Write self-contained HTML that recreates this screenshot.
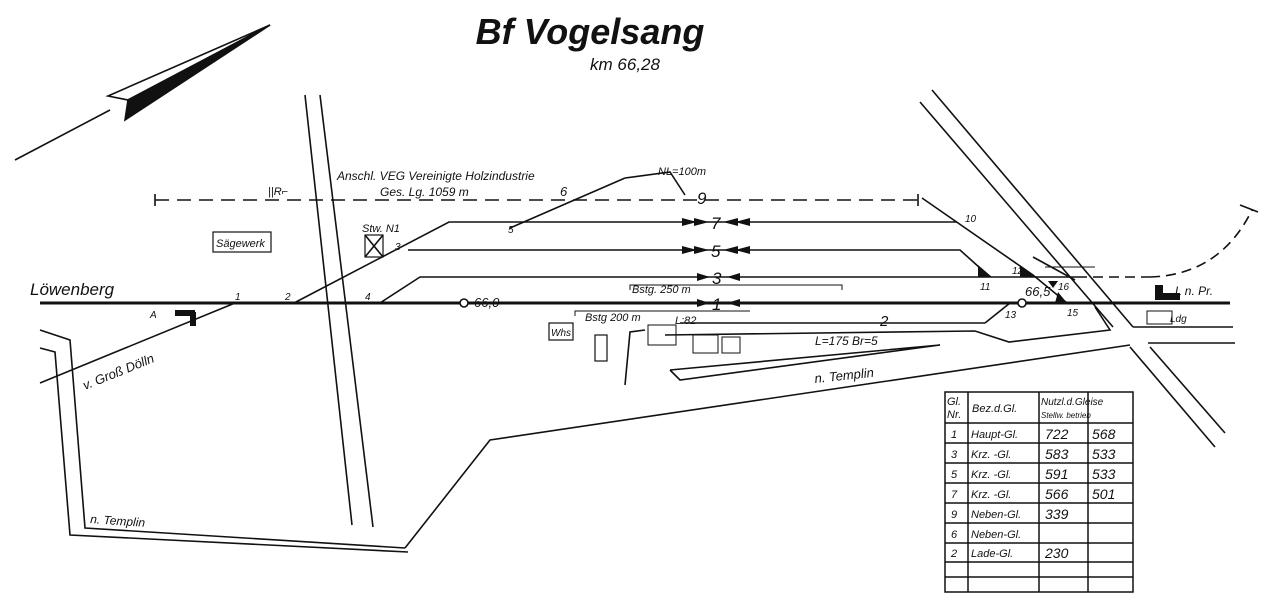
<!DOCTYPE html>
<html><head><meta charset="utf-8"><style>
html,body{margin:0;padding:0;background:#fff;width:1280px;height:613px;overflow:hidden}
svg{display:block}
text{font-family:"Liberation Sans",sans-serif;font-style:italic;fill:#111}
</style></head><body>
<svg width="1280" height="613" viewBox="0 0 1280 613" xmlns="http://www.w3.org/2000/svg" stroke="#111" fill="none" stroke-width="1.6">
<text x="590" y="44" font-size="36" font-weight="bold" text-anchor="middle" stroke="none">Bf Vogelsang</text>
<text x="625" y="70" font-size="17" text-anchor="middle" stroke="none">km 66,28</text>
<line x1="15" y1="160" x2="110" y2="110"/>
<polygon points="108,96 270,25 128,100" fill="#fff"/>
<polygon points="128,100 270,25 125,120" fill="#111"/>
<line x1="305" y1="95" x2="352" y2="525"/>
<line x1="320" y1="95" x2="373" y2="527"/>
<line x1="920" y1="102" x2="1113" y2="327"/>
<line x1="932" y1="90" x2="1133" y2="327"/>
<line x1="1133" y1="327" x2="1233" y2="327"/>
<line x1="1148" y1="343" x2="1235" y2="343"/>
<line x1="1130" y1="347" x2="1215" y2="447"/>
<line x1="1150" y1="347" x2="1225" y2="433"/>
<line x1="40" y1="303" x2="1230" y2="303" stroke-width="3"/>
<line x1="40" y1="383" x2="235" y2="303"/>
<polyline points="294,303 449,222 957,222"/>
<polyline points="408,250 960,250 990,277"/>
<polyline points="380,303 420,277 1077,277"/>
<polyline points="922,198 1033,275 1067,303"/>
<line x1="1033" y1="257" x2="1075" y2="280"/>
<line x1="1045" y1="267" x2="1095" y2="267" stroke-width="1"/>
<line x1="1010" y1="303" x2="985" y2="323"/>
<line x1="155" y1="200" x2="918" y2="200" stroke-dasharray="14,8"/>
<line x1="155" y1="194" x2="155" y2="206"/>
<line x1="918" y1="194" x2="918" y2="206"/>
<line x1="510" y1="228" x2="625" y2="178"/>
<polyline points="625,178 670,172 685,195"/>
<line x1="1077" y1="277" x2="1150" y2="277" stroke-dasharray="10,6"/>
<path d="M1150,277 Q1220,275 1252,210" stroke-dasharray="10,6"/>
<line x1="1240" y1="205" x2="1258" y2="212"/>
<polyline points="630,290 630,285 842,285 842,290" stroke-width="1"/>
<polyline points="575,316 575,311 750,311" stroke-width="1"/>
<g fill="#111" stroke="none">
<polygon points="682,218 697,222 682,226"/><polygon points="694,218 709,222 694,226"/>
<polygon points="738,218 723,222 738,226"/><polygon points="750,218 735,222 750,226"/>
<polygon points="682,246 697,250 682,254"/><polygon points="694,246 709,250 694,254"/>
<polygon points="738,246 723,250 738,254"/><polygon points="750,246 735,250 750,254"/>
<polygon points="697,273 710,277 697,281"/><polygon points="740,273 727,277 740,281"/>
<polygon points="697,299 710,303 697,307"/><polygon points="740,299 727,303 740,307"/>
<polygon points="978,265 992,277 978,277"/><polygon points="1020,265 1036,277 1020,277"/>
<polygon points="1048,281 1058,281 1053,288"/>
<polygon points="1058,292 1067,303 1055,303"/>
<rect x="1155" y="285" width="8" height="15"/><rect x="1155" y="293" width="25" height="7"/>
<rect x="175" y="310" width="20" height="6"/><rect x="190" y="312" width="6" height="14"/>
</g>
<text x="711" y="229" font-size="17" stroke="none">7</text>
<text x="711" y="257" font-size="17" stroke="none">5</text>
<text x="712" y="284" font-size="17" stroke="none">3</text>
<text x="712" y="310" font-size="17" stroke="none">1</text>
<text x="697" y="204" font-size="17" stroke="none">9</text>
<text x="560" y="196" font-size="13" stroke="none">6</text>
<line x1="680" y1="323" x2="985" y2="323"/>
<polyline points="665,335 975,331 1009,342 1110,330 1095,307"/>
<polyline points="645,330 630,332 625,385"/>
<polyline points="670,370 940,345 680,380 670,370"/>
<polyline points="405,548 490,440 1130,345"/>
<polyline points="40,330 70,340 85,528 405,548"/>
<polyline points="40,348 55,352 70,535 408,552"/>
<text x="880" y="326" font-size="15" stroke="none">2</text>
<text x="815" y="345" font-size="12" stroke="none">L=175  Br=5</text>
<text x="815" y="383" font-size="13" stroke="none" transform="rotate(-6 815 383)">n. Templin</text>
<text x="90" y="523" font-size="12" stroke="none" transform="rotate(4 90 523)">n. Templin</text>
<rect x="213" y="232" width="58" height="20" stroke-width="1.2"/>
<text x="216" y="247" font-size="11" stroke="none">Sägewerk</text>
<rect x="365" y="235" width="18" height="22" stroke-width="1.2"/>
<line x1="365" y1="235" x2="383" y2="257"/><line x1="383" y1="235" x2="365" y2="257"/>
<rect x="549" y="323" width="24" height="17" stroke-width="1.2"/>
<text x="551" y="336" font-size="10" stroke="none">Whs</text>
<rect x="595" y="335" width="12" height="26" stroke-width="1.2"/>
<rect x="648" y="325" width="28" height="20" stroke-width="1"/>
<rect x="693" y="335" width="25" height="18" stroke-width="1"/>
<rect x="722" y="337" width="18" height="16" stroke-width="1"/>
<rect x="1147" y="311" width="25" height="13" stroke-width="1"/>
<text x="1170" y="322" font-size="10" stroke="none">Ldg</text>
<text x="30" y="295" font-size="17" stroke="none">Löwenberg</text>
<text x="85" y="390" font-size="13" stroke="none" transform="rotate(-22 85 390)">v. Groß Dölln</text>
<text x="337" y="180" font-size="12" stroke="none">Anschl. VEG Vereinigte Holzindustrie</text>
<text x="380" y="196" font-size="12" stroke="none">Ges. Lg. 1059 m</text>
<text x="658" y="175" font-size="11" stroke="none">NL=100m</text>
<text x="268" y="195" font-size="11" stroke="none">||R⌐</text>
<text x="362" y="232" font-size="11" stroke="none">Stw. N1</text>
<text x="474" y="307" font-size="13" stroke="none">66,0</text>
<circle cx="464" cy="303" r="4" fill="#fff"/>
<circle cx="1022" cy="303" r="4" fill="#fff"/>
<text x="1025" y="296" font-size="13" stroke="none">66,5</text>
<text x="632" y="293" font-size="11" stroke="none">Bstg. 250 m</text>
<text x="585" y="321" font-size="11" stroke="none">Bstg 200 m</text>
<text x="675" y="324" font-size="11" stroke="none">L:82</text>
<text x="1175" y="295" font-size="12" stroke="none">L n. Pr.</text>
<g font-size="10" stroke="none">
<text x="235" y="300" stroke="none">1</text><text x="285" y="300" stroke="none">2</text>
<text x="395" y="250" stroke="none">3</text><text x="365" y="300" stroke="none">4</text>
<text x="508" y="233" stroke="none">5</text><text x="150" y="318" stroke="none">A</text>
<text x="965" y="222" stroke="none">10</text><text x="980" y="290" stroke="none">11</text>
<text x="1012" y="274" stroke="none">12</text><text x="1005" y="318" stroke="none">13</text>
<text x="1067" y="316" stroke="none">15</text><text x="1058" y="290" stroke="none">16</text>
</g>
<g stroke-width="1.5">
<rect x="945" y="392" width="188" height="200"/>
<line x1="968" y1="392" x2="968" y2="592"/>
<line x1="1039" y1="392" x2="1039" y2="592"/>
<line x1="1088" y1="392" x2="1088" y2="592"/>
<line x1="945" y1="423" x2="1133" y2="423"/>
<line x1="945" y1="443" x2="1133" y2="443"/>
<line x1="945" y1="463" x2="1133" y2="463"/>
<line x1="945" y1="483" x2="1133" y2="483"/>
<line x1="945" y1="503" x2="1133" y2="503"/>
<line x1="945" y1="523" x2="1133" y2="523"/>
<line x1="945" y1="543" x2="1133" y2="543"/>
<line x1="945" y1="562" x2="1133" y2="562"/>
<line x1="945" y1="577" x2="1133" y2="577"/>
</g>
<g font-size="11" stroke="none">
<text x="947" y="405">Gl.</text><text x="947" y="418">Nr.</text>
<text x="972" y="412">Bez.d.Gl.</text>
<text x="1041" y="405" font-size="10">Nutzl.d.Gleise</text>
<text x="1041" y="418" font-size="8">Stellw. betrieb</text>
<text x="951" y="438">1</text><text x="971" y="438">Haupt-Gl.</text><text x="1045" y="439" font-size="14">722</text><text x="1092" y="439" font-size="14">568</text>
<text x="951" y="458">3</text><text x="971" y="458">Krz. -Gl.</text><text x="1045" y="459" font-size="14">583</text><text x="1092" y="459" font-size="14">533</text>
<text x="951" y="478">5</text><text x="971" y="478">Krz. -Gl.</text><text x="1045" y="479" font-size="14">591</text><text x="1092" y="479" font-size="14">533</text>
<text x="951" y="498">7</text><text x="971" y="498">Krz. -Gl.</text><text x="1045" y="499" font-size="14">566</text><text x="1092" y="499" font-size="14">501</text>
<text x="951" y="518">9</text><text x="971" y="518">Neben-Gl.</text><text x="1045" y="519" font-size="14">339</text>
<text x="951" y="538">6</text><text x="971" y="538">Neben-Gl.</text>
<text x="951" y="557">2</text><text x="971" y="557">Lade-Gl.</text><text x="1045" y="558" font-size="14">230</text>
</g>
</svg>
</body></html>
